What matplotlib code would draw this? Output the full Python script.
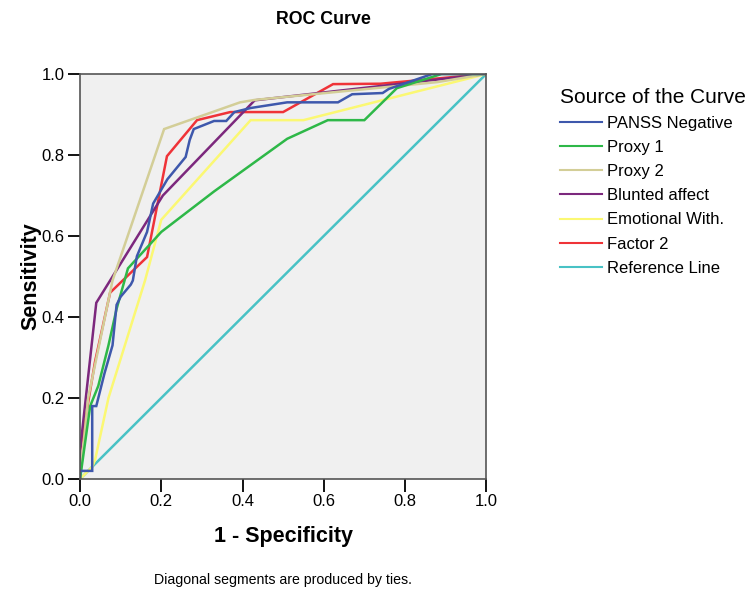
import matplotlib.pyplot as plt
from matplotlib.lines import Line2D

plt.rcParams['font.family'] = ['Liberation Sans', 'DejaVu Sans']

# ROC curve points (1 - specificity, sensitivity)
panss_x = [0, 0, 0.03, 0.03, 0.04, 0.06, 0.08, 0.09, 0.10, 0.125, 0.13, 0.14, 0.165, 0.18,
           0.215, 0.26, 0.27, 0.28, 0.33, 0.36, 0.38, 0.42, 0.51, 0.635, 0.67, 0.745, 0.76, 0.867, 1.0]
panss_y = [0, 0.02, 0.02, 0.18, 0.18, 0.26, 0.33, 0.43, 0.45, 0.48, 0.49, 0.55, 0.61, 0.68,
           0.74, 0.795, 0.837, 0.864, 0.884, 0.884, 0.906, 0.916, 0.93, 0.93, 0.95, 0.953, 0.963, 1.0, 1.0]

proxy1_x = [0, 0.025, 0.045, 0.07, 0.09, 0.118, 0.2, 0.33, 0.51, 0.61, 0.70, 0.78, 0.89, 1.0]
proxy1_y = [0, 0.18, 0.23, 0.33, 0.42, 0.52, 0.61, 0.71, 0.84, 0.886, 0.886, 0.965, 1.0, 1.0]

proxy2_x = [0, 0.02, 0.08, 0.207, 0.394, 0.43, 0.88, 1.0]
proxy2_y = [0, 0.2, 0.49, 0.864, 0.93, 0.936, 0.98, 1.0]

blunted_x = [0, 0, 0.04, 0.204, 0.43, 1.0]
blunted_y = [0, 0.07, 0.435, 0.70, 0.935, 1.0]

emotional_x = [0, 0.03, 0.037, 0.07, 0.16, 0.2, 0.42, 0.55, 1.0]
emotional_y = [0, 0.03, 0.047, 0.2, 0.49, 0.64, 0.886, 0.886, 1.0]

factor2_x = [0, 0, 0.037, 0.074, 0.165, 0.214, 0.288, 0.37, 0.5, 0.623, 0.74, 1.0]
factor2_y = [0, 0.07, 0.29, 0.46, 0.548, 0.797, 0.886, 0.906, 0.906, 0.975, 0.976, 1.0]

ref_x = [0, 1]
ref_y = [0, 1]

labels = ['PANSS Negative', 'Proxy 1', 'Proxy 2', 'Blunted affect',
          'Emotional With.', 'Factor 2', 'Reference Line']
colors = ['#3E58AC', '#2EB848', '#D3CE97', '#7C287D', '#FBF873', '#EF3338', '#48C2C5']
curves = [(panss_x, panss_y), (proxy1_x, proxy1_y), (proxy2_x, proxy2_y),
          (blunted_x, blunted_y), (emotional_x, emotional_y), (factor2_x, factor2_y),
          (ref_x, ref_y)]

fig = plt.figure(figsize=(7.55, 6.04), dpi=100)
ax = fig.add_axes([0.106, 0.207, 0.538, 0.6705])
ax.set_facecolor('#F0F0F0')

# draw in reverse so the reference line sits beneath
for (x, y), c in reversed(list(zip(curves, colors))):
    ax.plot(x, y, color=c, lw=1.8, solid_joinstyle='miter')

ax.set_xlim(0, 1)
ax.set_ylim(0, 1)
ticks = [0.0, 0.2, 0.4, 0.6, 0.8, 1.0]
ax.set_xticks(ticks)
ax.set_yticks(ticks)
ax.set_xticklabels([f'{t:.1f}' for t in ticks])
ax.set_yticklabels([f'{t:.1f}' for t in ticks])
ax.tick_params(direction='out', length=9, width=1.3, labelsize=12, color='black', pad=2)
for s in ax.spines.values():
    s.set_color('#555555')
    s.set_linewidth(1.2)

ax.set_xlabel('1 - Specificity', fontsize=15.5, fontweight='bold', labelpad=12)
ax.set_ylabel('Sensitivity', fontsize=15.5, fontweight='bold', labelpad=0)

fig.text(0.428, 0.968, 'ROC Curve', ha='center', va='center', fontsize=12.8, fontweight='bold')
fig.text(0.375, 0.040, 'Diagonal segments are produced by ties.', ha='center', va='center', fontsize=10.2)

handles = [Line2D([0], [0], color=c, lw=1.5) for c in colors]
leg = fig.legend(handles, labels, loc='upper left', bbox_to_anchor=(0.742, 0.855),
                 frameon=False, title='Source of the Curve', title_fontsize=15,
                 fontsize=12, handlelength=2.5, handletextpad=0.3, labelspacing=0.55,
                 borderaxespad=0, borderpad=0)
leg._legend_box.align = 'left'

fig.savefig('out.png', dpi=100)
